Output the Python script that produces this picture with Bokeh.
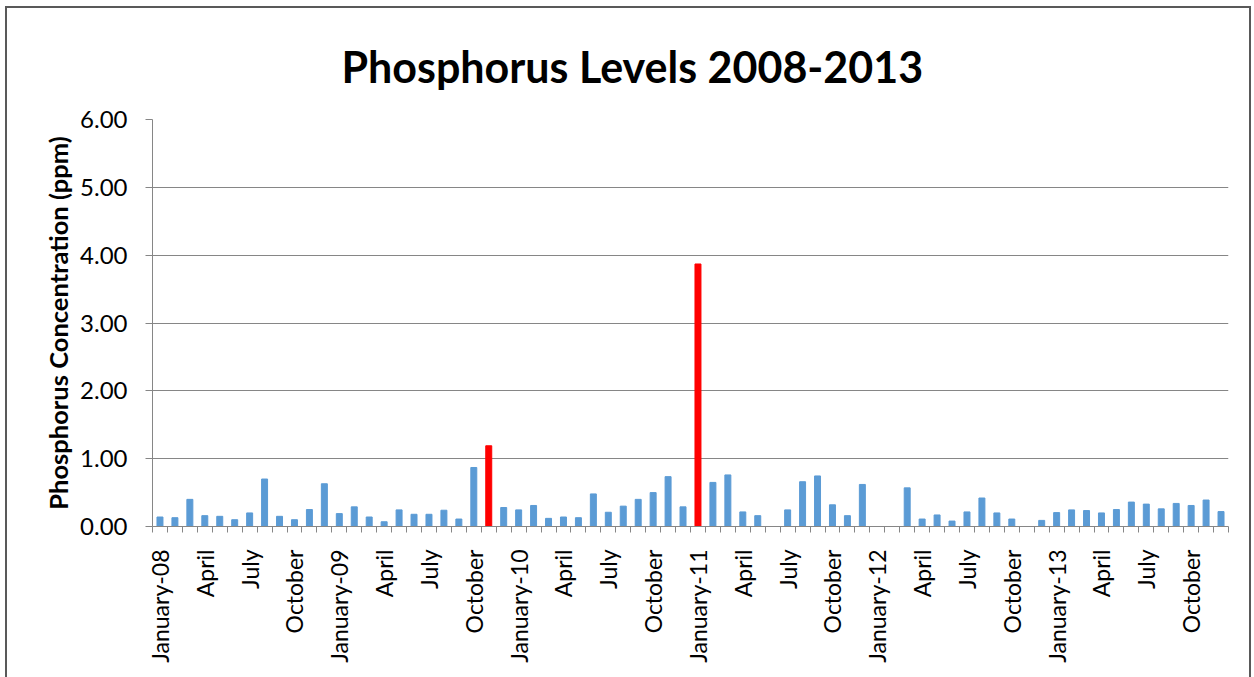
import math
from bokeh.plotting import figure
from bokeh.models import ColumnDataSource, FixedTicker, Range1d, NumeralTickFormatter
from bokeh.embed import file_html
from bokeh.resources import INLINE

# ---- data (monthly, Jan 2008 - Dec 2013; None = no sample) ----
phosphorus = [
    # 2008
    0.14, 0.13, 0.40, 0.16, 0.15, 0.10, 0.20, 0.70, 0.15, 0.10, 0.25, 0.63,
    # 2009
    0.19, 0.29, 0.14, 0.07, 0.245, 0.18, 0.18, 0.24, 0.11, 0.87, 1.19, 0.28,
    # 2010
    0.245, 0.31, 0.12, 0.14, 0.13, 0.48, 0.21, 0.30, 0.40, 0.50, 0.735, 0.29,
    # 2011
    3.87, 0.65, 0.76, 0.215, 0.16, None, 0.245, 0.66, 0.745, 0.32, 0.16, 0.62,
    # 2012
    None, None, 0.57, 0.11, 0.17, 0.08, 0.215, 0.42, 0.20, 0.11, None, 0.09,
    # 2013
    0.205, 0.245, 0.235, 0.20, 0.25, 0.36, 0.33, 0.26, 0.34, 0.31, 0.39, 0.22,
]
tick_labels = [
    "January-08", "April", "July", "October",
    "January-09", "April", "July", "October",
    "January-10", "April", "July", "October",
    "January-11", "April", "July", "October",
    "January-12", "April", "July", "October",
    "January-13", "April", "July", "October",
]
limit = 1.0  # concentrations above this are highlighted

BLUE = "#5B9BD5"
RED = "#FF0000"
GRID = "#868686"
FONT = "Lato"

n = len(phosphorus)
xs, tops, colors = [], [], []
for i, v in enumerate(phosphorus):
    if v is None:
        continue
    xs.append(i)
    tops.append(v)
    colors.append(RED if v > limit else BLUE)
src = ColumnDataSource(dict(x=xs, top=tops, color=colors))

p = figure(width=1246, height=671, output_backend="svg", toolbar_location=None,
           x_range=Range1d(-0.5, n - 0.5), y_range=Range1d(0, 6),
           min_border_left=145, min_border_right=25, min_border_top=111,
           min_border_bottom=153)
p.styles = {"border": "2px solid #595959", "border-bottom": "none",
            "margin-left": "5px", "margin-top": "6px"}

p.vbar(x="x", top="top", width=0.4, color="color", source=src)

p.title.text = "Phosphorus Levels 2008-2013"
p.title.text_font = FONT
p.title.text_font_size = "43px"
p.title.text_font_style = "bold"
p.title.text_color = "#000000"
p.title.align = "left"
p.title.standoff = 56
p.title.offset = 189

# x axis
major = list(range(0, n, 3))
p.xaxis.ticker = FixedTicker(ticks=major, minor_ticks=[i - 0.5 for i in range(n + 1)])
p.xaxis.major_label_overrides = {t: lab for t, lab in zip(major, tick_labels)}
p.xaxis.major_label_orientation = math.pi / 2
p.xaxis.major_label_text_font = FONT
p.xaxis.major_label_text_font_size = "23px"
p.xaxis.major_label_text_color = "#000000"
p.xaxis.major_tick_line_color = None
p.xaxis.minor_tick_line_color = GRID
p.xaxis.minor_tick_out = 6
p.xaxis.minor_tick_in = 0
p.xaxis.axis_line_color = GRID
p.xaxis.major_label_standoff = 17

# y axis
p.yaxis.ticker = FixedTicker(ticks=[0, 1, 2, 3, 4, 5, 6])
p.yaxis.formatter = NumeralTickFormatter(format="0.00")
p.yaxis.axis_label = "Phosphorus Concentration (ppm)"
p.yaxis.axis_label_text_font = FONT
p.yaxis.axis_label_text_font_size = "25.5px"
p.yaxis.axis_label_text_font_style = "bold"
p.yaxis.axis_label_text_color = "#000000"
p.yaxis.axis_label_standoff = 4
p.yaxis.major_label_text_font = FONT
p.yaxis.major_label_text_font_size = "24px"
p.yaxis.major_label_text_color = "#000000"
p.yaxis.major_tick_line_color = GRID
p.yaxis.major_tick_out = 7
p.yaxis.major_tick_in = 0
p.yaxis.minor_tick_line_color = None
p.yaxis.axis_line_color = GRID
p.yaxis.major_label_standoff = 18

p.xgrid.grid_line_color = None
p.ygrid.grid_line_color = GRID
p.ygrid.grid_line_width = 1
p.outline_line_color = None
p.background_fill_color = "#FFFFFF"
p.border_fill_color = "#FFFFFF"

open("out.html", "w").write(file_html(p, INLINE))
